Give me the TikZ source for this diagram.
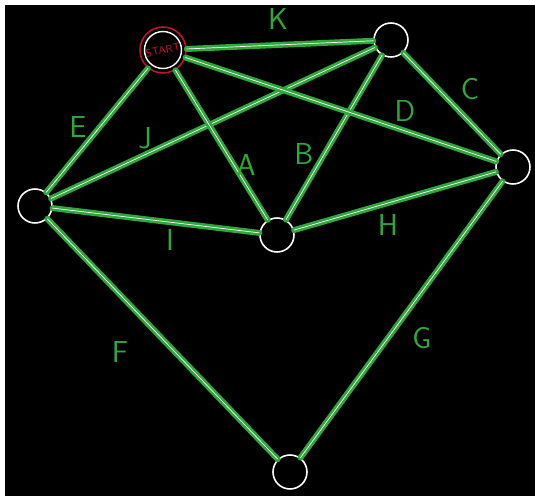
\documentclass[tikz,border=0pt]{standalone}
\usepackage{tikz}
\usetikzlibrary{positioning}
\definecolor{RouteGreen}{HTML}{2EA83A}
\definecolor{StartRed}{HTML}{C0142A}
\tikzset{
  stop/.style={
    circle,
    draw=white,
    line width=0.9pt,
    minimum size=0.68cm,
    inner sep=0pt
  },
  startstop/.style={
    stop,
    draw=StartRed,
    minimum size=0.92cm
  },
  route/.style={draw=RouteGreen,double=white,double distance=0.4pt,line width=1.5pt,line cap=round},
  routename/.style={text=RouteGreen,font=\sffamily\LARGE}
}

\begin{document}
\begin{tikzpicture}
        \useasboundingbox (0,0) rectangle (10.7,9.92);
        \fill[white] (0,0) rectangle (10.7,9.92);
        \fill[black] (0.1,0) rectangle (10.7,9.82);
        % stops
        \node[startstop] (start) at (3.26,8.92) {};
        \draw[white,line width=0.8pt] (start.center) circle (0.37);
        \node[text=StartRed,font=\sffamily\fontsize{6}{7}\selectfont,rotate=12,inner sep=0pt] (starttext) at (start.center) {START};
        \node[stop] (top) at (7.82,9.12) {};
        \node[stop] (right) at (10.26,6.58) {};
        \node[stop] (left) at (0.70,5.80) {};
        \node[stop] (mid) at (5.54,5.22) {};
        \node[stop] (bottom) at (5.80,0.48) {};
        % routes
        \draw[route] (start) -- (top);
        \draw[route] (start) -- (left);
        \draw[route] (left) -- (top);
        \draw[route] (start) -- (mid);
        \draw[route] (mid) -- (top);
        \draw[route] (start) -- (right);
        \draw[route] (top) -- (right);
        \draw[route] (mid) -- (right);
        \draw[route] (left) -- (mid);
        \draw[route] (left) -- (bottom);
        \draw[route] (right) -- (bottom);
        % route names
        \node[routename] (k) at (5.56,9.54) {K};
        \node[routename] (e) at (1.56,7.38) {E};
        \node[routename] (j) at (2.90,7.16) {J};
        \node[routename] (a) at (4.92,6.62) {A};
        \node[routename] (b) at (6.08,6.84) {B};
        \node[routename] (d) at (8.10,7.70) {D};
        \node[routename] (c) at (9.40,8.14) {C};
        \node[routename] (h) at (7.76,5.42) {H};
        \node[routename] (i) at (3.40,5.12) {I};
        \node[routename] (f) at (2.40,2.88) {F};
        \node[routename] (g) at (8.44,3.16) {G};
      \end{tikzpicture}
\end{document}
